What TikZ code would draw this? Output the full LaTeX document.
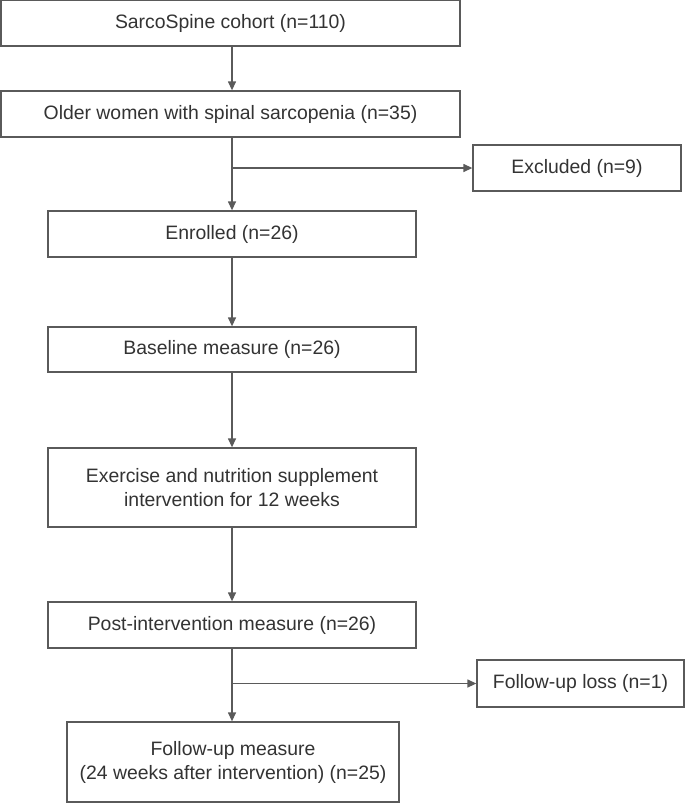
\documentclass[tikz,border=0pt]{standalone}
\usepackage{fontspec}
\setmainfont{Liberation Sans}
\usepackage{tikz}
\usetikzlibrary{arrows.meta, positioning}
\definecolor{linegray}{HTML}{5A5A5A}
\definecolor{textgray}{HTML}{333333}

\begin{document}
\begin{tikzpicture}[x=0.5pt, y=-0.5pt,
        box/.style={draw=linegray, line width=0.65pt, fill=white, text=textgray,
            rectangle, inner sep=0pt, align=center,
            font=\fontsize{9.7}{12}\selectfont},
        arr/.style={draw=linegray, line width=0.65pt, -{Triangle[length=4.5pt, width=4pt]}}]
            \useasboundingbox (0,0) rectangle (685,803);
            \node[box, minimum width=459pt/2, minimum height=46pt/2] (cohort) at (230.5,23) {SarcoSpine cohort (n=110)};
            \node[box, minimum width=459pt/2, minimum height=46pt/2] (older) at (230.5,114) {Older women with spinal sarcopenia (n=35)};
            \node[box, minimum width=208pt/2, minimum height=46pt/2] (excl) at (577,168) {Excluded (n=9)};
            \node[box, minimum width=368pt/2, minimum height=46pt/2] (enrolled) at (232,234) {Enrolled (n=26)};
            \node[box, minimum width=368pt/2, minimum height=45pt/2] (baseline) at (232,349.5) {Baseline measure (n=26)};
            \node[box, minimum width=368pt/2, minimum height=79pt/2] (exercise) at (232,487.5) {Exercise and nutrition supplement\\intervention for 12 weeks};
            \node[box, minimum width=368pt/2, minimum height=46pt/2] (post) at (232,625) {Post-intervention measure (n=26)};
            \node[box, minimum width=207pt/2, minimum height=47pt/2] (loss) at (580.5,683.5) {Follow-up loss (n=1)};
            \node[box, minimum width=332pt/2, minimum height=80pt/2] (followup) at (233,762) {Follow-up measure\\(24 weeks after intervention) (n=25)};
            \coordinate (split1) at (enrolled.north |- excl.west);
            \coordinate (split2) at (post.south |- loss.west);
            \draw[arr] (cohort.south -| enrolled.north) -- (older.north -| enrolled.north);
            \draw[arr] (older.south -| enrolled.north) -- (enrolled.north);
            \draw[arr] (split1) -- (excl.west);
            \draw[arr] (enrolled.south) -- (baseline.north);
            \draw[arr] (baseline.south) -- (exercise.north);
            \draw[arr] (exercise.south) -- (post.north);
            \draw[arr] (post.south) -- (followup.north -| post.south);
            \draw[arr] (split2) -- (loss.west);
        \end{tikzpicture}
\end{document}
